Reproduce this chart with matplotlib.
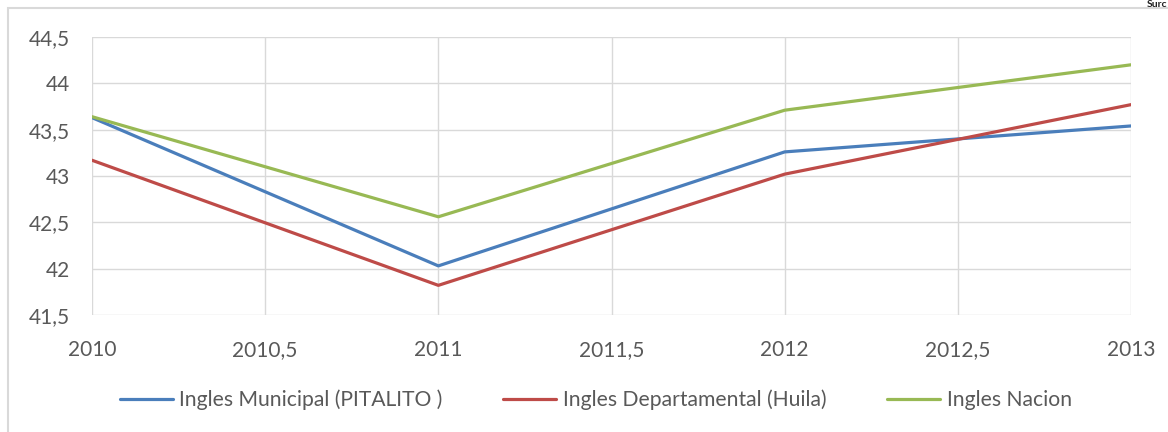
import matplotlib.pyplot as plt
from matplotlib.ticker import FuncFormatter, MultipleLocator
from matplotlib.patches import Rectangle

years = [2010, 2011, 2012, 2013]
municipal = [43.63, 42.03, 43.26, 43.54]
departamental = [43.17, 41.82, 43.02, 43.77]
nacion = [43.64, 42.56, 43.71, 44.20]
labels = ['Ingles Municipal (PITALITO )', 'Ingles Departamental (Huila)', 'Ingles Nacion']
colors = ['#4A7EBB', '#BE4B48', '#98B954']

plt.rcParams['font.family'] = ['Lato', 'DejaVu Sans']

fig = plt.figure(figsize=(11.68, 4.32), dpi=100)
ax = fig.add_axes([92 / 1168, 1 - 315 / 432, (1131 - 92) / 1168, (315 - 37) / 432])

# outer chart border like excel
fig.patches.append(Rectangle((8 / 1168, -0.1), 1.2, 1 - 8 / 432 + 0.1, transform=fig.transFigure,
                             fill=False, edgecolor='#D9D9D9', linewidth=1.5))
fig.text(1167 / 1168, 0.999, 'Surc', fontsize=7.5, fontweight='bold', color='#222222', va='top', ha='right')

for vals, lab, c in zip([municipal, departamental, nacion], labels, colors):
    ax.plot(years, vals, color=c, linewidth=2.3, label=lab, solid_capstyle='round')

ax.set_xlim(2010, 2013)
ax.set_ylim(41.5, 44.5)
ax.xaxis.set_major_locator(MultipleLocator(0.5))
ax.yaxis.set_major_locator(MultipleLocator(0.5))
fmt = FuncFormatter(lambda v, p: ('%g' % v).replace('.', ','))
ax.xaxis.set_major_formatter(fmt)
ax.yaxis.set_major_formatter(fmt)
ax.grid(True, color='#D9D9D9', linewidth=1)
ax.set_axisbelow(True)
for s in ax.spines.values():
    s.set_visible(False)
ax.tick_params(length=0, labelsize=15, labelcolor='#595959')
ax.tick_params(axis='x', pad=18)
ax.tick_params(axis='y', pad=16)

fig.legend(loc='center', bbox_to_anchor=(0.51, 1 - 400 / 432), ncol=3, frameon=False,
           fontsize=15.2, labelcolor='#595959', handlelength=2.5, handletextpad=0.3,
           columnspacing=2.9)

plt.savefig('out.png', dpi=100)
